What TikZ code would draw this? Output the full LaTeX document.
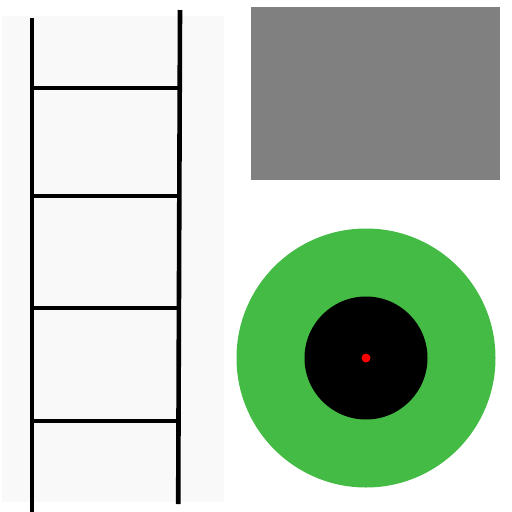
\documentclass[tikz,border=0pt]{standalone}
\definecolor{panelgray}{HTML}{F9F9F9}
\definecolor{boxgray}{HTML}{808080}
\definecolor{ringgreen}{HTML}{44BB44}
\tikzset{
  rail/.style={line width=4.6pt, draw=black},
  rung/.style={line width=3.6pt, draw=black},
}
\begin{document}
\begin{tikzpicture}[x=1pt,y=-1pt]
\useasboundingbox (0,0) rectangle (512,512);
\fill[white] (0,0) rectangle (512,512);
% ladder panel
\fill[panelgray] (2,16) rectangle (224,502);
% rungs
\draw[rung] (32,88) -- (179.6,88);
\draw[rung] (32,196) -- (179.1,196);
\draw[rung] (32,308) -- (178.7,308);
\draw[rung] (32,421) -- (178.3,421);
% rails
\draw[rail] (32,18) -- (32,512);
\draw[rail] (180,10) -- (178.2,504);
% gray box
\fill[boxgray] (251,7) rectangle (500,180);
% target
\fill[ringgreen] (366,358) circle (129.5);
\fill[black] (366,358) circle (61.5);
\fill[red] (366,358) circle (4.5);
\end{tikzpicture}
\end{document}
